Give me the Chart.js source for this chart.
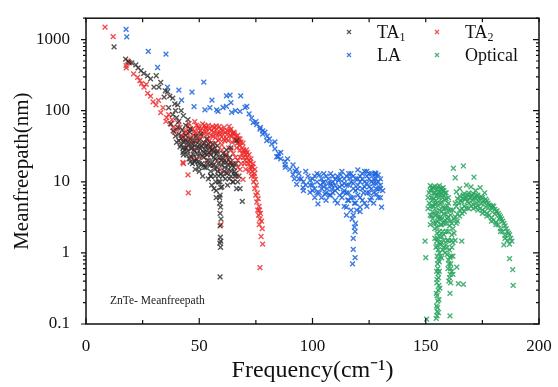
<!DOCTYPE html>
<html>
<head>
<meta charset="utf-8">
<script src="https://cdn.jsdelivr.net/npm/chart.js@4.4.1/dist/chart.umd.min.js"></script>
<style>
  html, body { margin: 0; padding: 0; background: #fff; }
  #wrap { width: 558px; height: 387px; }
</style>
</head>
<body>
<div id="wrap"><canvas id="mfp-chart" width="558" height="387"></canvas></div>
<script>
// axis ticks
const xTicks = [0, 50, 100, 150, 200];
const yTicks = [0.1, 1, 10, 100, 1000];

// legend names: [main, subscript]
const seriesNames = [['TA', '1'], ['TA', '2'], ['LA', ''], ['Optical', '']];

// [frequency cm-1, mean free path nm]
const ta1Points = [
  [12.4,790],[17.5,530],[18.8,485],[20.2,470],[22,440],[23,400],[24.3,365],[25.5,335],[27.2,310],[28.5,280],
  [31,310],[30,214],[32.2,214],[33,250],[34.5,155],[35,190],[36,185],[37,160],[38.3,150],[39.2,125],
  [40.5,121],[36.5,110],[38.3,88],[39.5,100],[41,71],[42,100],[43,85],[40,80],[44,62],[45,75],[46,55],[37.5,65],
  [38.5,52],[39.5,44],[40,36],[40.5,58],[41,47],[41.5,31],[42,41],[42.5,54],[42.8,26],[43,36],[43.5,28],
  [44,45],[44,30],[44.5,24],[45,33],[45.5,21],[45.8,50],[46,40],[46.2,23],[46.5,29],[47,18],[47,34],
  [47.5,24],[48,27],[48.2,15],[48.5,44],[48.8,21],[49,30],[49.5,19],[50,38],[50,14],[50.3,25],[50.8,47],
  [51,32],[51.2,18],[51.5,12],[52,22],[52.2,35],[52.5,28],[53,16],[53.2,40],[53.5,24],[54,20],[54,11],
  [54.5,30],[55,24],[55,14],[55.5,9],[55.8,19],[56,34],[56.2,17],[56.5,26],[57,12],[57,21],[57.5,7.5],
  [57.8,16],[58,27],[58.2,14],[58.5,10],[58.8,22],[59,6],[59.5,13],[60,17],[60,8.5],[60.5,25],[61,14],
  [61.5,11],[62,19],[62.5,9],[63,15],[63.5,22],[64,12],[64.5,17],[65,10],[65.5,14],[66,13],[66.5,8],
  [66.5,38],[64,30],[62,28],[68,8],[69,5.3],
  [41,38],[42,33],[43,30],[44,38],[45,27],[46,19],[46.8,31],[47.8,20],[48.5,33],[49.2,25],[49.8,16],
  [50.6,29],[51.4,23],[52.3,16],[52.8,31],[53.8,18],[54.2,26],[54.8,17],[55.2,12],[55.6,28],[56.4,22],
  [56.8,15],[57.3,10],[57.6,25],[58.4,18],[58.6,12],[59.6,20],[60.3,12],[60.8,19],[61.3,16],[61.8,23],
  [62.3,13],[62.8,17],[63.3,11],[63.8,19],[64.2,14],[64.8,10],[65.2,16],[65.8,12],[66.2,18],[67,10],
  [67.5,12],[48,38],[50,33],[52,26],[54,34],[56,29],[58,32],[60,22],[45,36],[43,24],[48,19],[50,18],
  [52,17],[55,12],[56.5,8],[57.5,6],
  [59.2,10],[59.5,8.3],[59.2,6.5],[59,5],[59.4,4.4],[59.2,3.6],[59.6,3.0],[59.2,2.4],[59.3,1.66],
  [59.5,1.46],[59.1,1.37],[59.4,1.2],[59.2,0.46]
];

const ta2Points = [
  [8.4,1500],[12,1100],[17.7,430],[18.4,500],[17.8,400],[19.3,470],[21,330],[22.8,295],[23.8,265],[24.5,240],
  [25.6,214],[26.6,235],[27.2,175],[28.5,160],[29.6,133],[30.9,121],[32,140],[33,94],[34,110],[35.3,71],
  [35.6,80],[36.5,88],[37.2,66],[38,75],[38.4,58],[39,50],[40,55],[40.5,68],
  [41.5,58],[42,45],[42.8,43],[43,38],[43.5,48],[44,52],[44.5,30],[45,60],[45.5,66],[46,42],[46.5,35],
  [47,55],[47.5,45],[47.5,28],[48,70],[48.5,48],[48.8,62],[49,38],[49.5,60],[50,30],[50.5,52],[51,44],
  [51.5,65],[52,36],[52.5,25],[52.8,58],[53,55],[53.5,46],[54,62],[54.5,38],[55,30],[55.5,52],[56,44],
  [56.5,58],[57,35],[57.5,61],[57.7,48],[58,26],[58.5,48],[59,40],[59.5,55],[60,33],[60.5,46],[61,58],
  [61.2,38],[61.5,24],[62,40],[62.5,52],[63,30],[63.2,60],[63.5,45],[64,55],[64.5,36],[65,25],[65.3,50],
  [65.5,47],[66,40],[66.5,30],[67,20],[67,45],[67.5,36],[68,28],[68,40],[68.5,18],[69,30],[69.3,35],
  [69.5,22],[70,26],[70.5,15],[70.8,28],[71,22],[71.5,18],[72,14],[72,24],[72.5,19],[73,12],[73.1,16.4],
  [73.5,16],[74,10],[74.3,13],[74.5,8],[74.8,10.8],[75,6.5],[75.4,5.2],[75.8,4],[76.2,3.4],[76.8,3.0],
  [76.5,2.5],[77.3,1.7],[78,1.33],[76.8,0.62],
  [44,40],[45,48],[46,56],[47,38],[48,52],[49,45],[49.8,56],[50.4,40],[51.2,56],[51.8,48],[52.4,62],
  [53.2,50],[53.8,40],[54.4,56],[55.2,45],[55.8,60],[56.4,50],[57.2,42],[57.8,55],[58.4,38],[58.8,60],
  [59.4,46],[60.2,52],[60.8,40],[61.6,50],[62.2,46],[62.8,38],[63.6,52],[64.2,44],[64.8,48],[65.6,38],
  [66.2,44],[66.8,35],[67.4,40],[67.8,32],[68.4,36],[68.8,25],[69.6,28],[70.2,20],[70.6,24],[71.2,26],
  [71.8,20],[72.4,16],[72.8,21],[73.4,14],[73.8,18],[74.2,12],[74.6,15],[75.2,9],[75.6,7],[76,5.8],
  [76.4,4.5],[76.6,4],[77,3.6],[77.5,2.8],[77.8,2.2],
  [60,28],[62,24],[64,28],[66,22],[68,22],[65,18],[63,20],[67,16],[70,18],[57,30],[55,35],[53,32],
  [43,18],[45.2,7],[42.8,18.8],[45,12.5],[47,22],[50,22],[53.3,20],[55,26],[56,17],[58,20],[59.2,14.7],
  [59.6,2.5],[61,20],[62,13.3],[64,18],[66.5,12],[68,15],[69.3,10.8]
];

const laPoints = [
  [17.7,1390],[18,1090],[27.5,685],[35.3,625],[31.6,405],[36,214],[41,195],[46.8,183],[42.2,141],[52,252],
  [55.6,141],[62,162],[63.6,166],[68.3,162],[47.7,114],[52.5,103],[54.7,110],[57.7,103],[60.5,111],[58.3,98],
  [62,115],[64.3,95],[68,98],[70.2,111],[71,115],[73.1,79],[73.8,68],[75.4,64],[76.8,55],[78,52],[79,50],
  [79.8,38],[78,47],[83.4,36.5],[83.4,29],[84.8,22.5],[84.2,22.5],[86,26],[87.9,19.4],[87.9,17.3],[89,21],
  [64,130],[66,100],[72,90],[75,70],[77,58],[80,44],[81,40],[82,34],[85,25],[86,21],[88,16],[90,15],
  [92,11],[93,15],
  [91.4,17.3],[92.3,14.1],[91.4,12.6],[93,9.2],[94,11],[95.8,8.3],[96,10],[97,14],[98,12],[98.9,7.1],[99,9],
  [100,11],[101,6],[101,8],[102,13],[102.4,4.9],[103,7],[104,11],[104.6,9.7],[105,8.5],[105.5,6.7],[106,12],
  [106,5.5],[107,9.5],[108,13],[108,6.5],[108.5,8.8],[108.5,7.9],[109,10],[110,10.8],[110,7.5],[110,5.5],
  [111,12],[111,5],[112,10.8],[112,8.5],[113,14],[113,6],[113.6,7.1],[114,9.5],[114,4.5],[115,12],[115,7],
  [115,4.4],[115,3.4],[116,9],[116,5.5],[116.5,11.3],[117,13],[117,4],[117.5,3],[118,8],[118,6],[118,3.4],
  [118.5,2.3],[119,11],[119,5],[119,2.6],[120,14.7],[120,9],[120,6.5],[121,12],[121,4.4],[121,3.8],[122,8],
  [122,5.5],[123,10],[123,14],[124,14],[124,7],[124,4.5],[125,11],[125,8.5],[125.4,5.5],[126,6],[126,13],
  [127,9.5],[127,5],[127.6,13.3],[127.6,12.6],[128,11],[128,8],[128.3,6.7],[129,10],[129,12.5],[129,7.9],
  [130,9],[130,6],[130.5,4.4],[131,7.5],
  [100,9],[101,12],[102,10],[103,12.5],[103.5,9],[104,6],[105,13],[106.5,8],[107,11],[107.5,6.5],[108,9.5],
  [109,12],[109,7],[110,9],[111,8],[111.5,10.5],[112,6.5],[112.5,12.5],[113,9],[114,11],[114,7.5],[115,9],
  [115.5,5.5],[116,13],[116,7],[117,10],[117,6],[118,12],[118,9.5],[118.5,5],[119,7.5],[119.5,4],[120,11],
  [120,8],[121,10],[121,6],[122,13],[122,11],[122.5,7],[123,8.5],[123,5],[124,12],[124,9.5],[125,13],
  [125,7],[126,10],[126,8],[127,11],[127,7],[128,13],[128,9.5],[129,6],[130,11],[130,8],[105,10],[106,7],
  [104,8],[102,7],[100,7.5],[99,10.5],[97,9],[95,11],[94,13],[96,7.5],
  [118.8,2.0],[118,1.6],[118,1.12],[118.8,0.86],[117.7,0.70]
];

const opticalPoints = [
  [152,8.8],[153,8.3],[154,8.6],[155,7.8],[156,8.8],[157,8],[158,7.5],[153.3,8.3],[157.7,8.3],
  [151.5,7],[152.5,6],[153.5,7],[154.5,5.5],[155.5,6.5],[156.5,5],[157.5,6],[158.5,5.5],[159,7],
  [152,4.5],[153,3.8],[154,4.8],[155,3.5],[156,4],[157,3],[158,4.2],[159,3.5],[160,5],[151,4.2],
  [152,2.5],[153,3],[154,2.2],[155,2.8],[156,2],[157,2.5],[158,1.8],[159,2.6],[160,3.2],[161,4],
  [152.5,3.3],[153.5,2.6],[154.5,3.9],[155.5,4.6],[156.5,3.2],[157.5,4.4],[158.5,2.9],[159.5,4.6],
  [151,6],[151.5,5],[152,7.5],[152.5,8],[153,5.5],[153.5,4.5],[154,7],[154.5,6.3],[155,5],[155,8.5],
  [155.5,7],[156,6],[156,7.2],[156.5,8],[157,5.2],[157,6.8],[157.5,7.5],[158,6.5],[158,3.5],[158.5,7],
  [159,5.8],[159,4.2],[159.5,3],[160,4],[160,6],[160.5,2.4],[161,3.4],[161.5,2.6],[152,3.4],[153,4.6],
  [153.5,5.8],[154,3.4],[154.5,2.6],[155,2.3],[155.5,3.2],[156,3],[156.5,2.5],[157,3.8],[157.5,2],
  [158,2.6],[159,2],[159.5,1.5],[160,2],
  [154,1.6],[155,1.9],[156,1.4],[157,1.7],[158,1.2],[159.2,1.18],[161.5,1.8],[154.8,1.46],[155.5,1.1],
  [155,1.6],[156,1.7],[156.5,1.3],[157,1.4],[157.5,1.1],[158,1.5],[158.5,1],[159,1.3],[154.5,1.2],
  [155,1.25],[155.5,0.8],[156,1],[156.5,0.9],[157,0.85],[155.2,0.7],[154.8,0.55],[156,0.55],[155.6,0.45],
  [154.9,0.38],[156.2,0.32],[154.7,0.27],[155.8,0.22],[155.2,0.17],[155.6,0.145],[154.6,0.12],
  [155,0.9],[156,0.75],[155.3,0.6],[155.5,0.51],[155,0.42],[155.8,0.35],[155.5,0.3],[155,0.25],[155.3,0.21],
  [154.8,0.18],[155,0.15],[155,0.13],[150.4,0.117],[160.7,0.13],[160.7,0.86],[160.7,0.27],[161,0.6],
  [160.5,0.45],[164.4,0.37],[166.6,0.36],[163.7,0.63],[165.9,1.46],[149.7,1.46],[150,0.86],
  [159.5,0.95],[160,0.8],[161,0.7],[160.5,1.1],[161.5,0.55],[162,0.5],[160.2,0.4],[161,0.38],[159.8,0.6],
  [160.2,0.7],[161.2,0.9],[160.8,0.5],[161.5,1.5],[162.5,1.9],[163.5,2.6],[162,1.4],
  [162,2.2],[163,1.5],[162.5,3],[161,2.8],[160,1.5],[161.5,1.2],[162,0.9],
  [162.2,15.5],[166.6,16.7],[163,11.4],[171.3,11.6],[174,8.3],
  [165,8],[168,9],[170,8.5],[172,7.5],[163.5,7.2],[176,7],
  [162,4],[163,5],[164,5.8],[165,6.3],[166,5.2],[167,6.8],[168,6],[169,7],[170,6.2],[171,6.8],[172,5.8],
  [173,6.5],[174,5.5],[175,6],[176,5],[177,5.4],[178,4.7],[179,4.3],[180,4.5],[181,3.8],[182,3.6],
  [183,3.2],[184,2.8],[185,2.4],[186,2],[187,1.8],[188,1.46],[187,1.33],[187,0.83],[188.4,0.58],[188.6,0.35],
  [163,3.2],[164,3.5],[165,4],[166,4.2],[167,4.5],[168,4.3],[169,5],[170,4.6],[171,4.8],[172,4.4],
  [173,4.6],[174,4.2],[175,4],[176,3.8],[177,3.6],[178,3.4],[179,3.1],[180,2.9],[181,2.7],[182,2.5],
  [183,2.2],[184,2],[185,1.75],[186,1.5],[184.5,1.3],
  [166.5,5.8],[168.5,5.3],[170.5,5.5],[172.5,5.1],[174.5,4.9],[176.5,4.4],[178.5,4],[180.5,3.5],[182.5,3],
  [163.5,4.5],[164.5,5],[165.5,5.5],[166.5,6.5],[167.5,5.7],[168.5,6.6],[169.5,6],[170.5,6.5],[171.5,6],
  [172.5,6.4],[173.5,5.9],[174.5,6.2],[175.5,5.4],[176.5,5.7],[177.5,5],[178.5,4.6],[179.5,4.6],[180.5,4.1],
  [181.5,3.9],[182.5,3.4],[183.5,3],[184.5,2.6],[185.5,2.2],[186.5,1.9],[187.5,1.6],[167,3.8],[169,4.2],
  [171,4.2],[173,4],[175,3.6],[177,3.3],[179,2.8],[181,2.5],[183,2],[185,1.6],[164,2.8],[165,3.3],[166,3.6]
];

const seriesColors = ['rgba(45,45,45,0.8)', 'rgba(238,38,38,0.8)', 'rgba(28,100,222,0.85)', 'rgba(42,165,95,0.85)'];
const serif = "'Liberation Serif', 'Times New Roman', serif";

const toXY = pts => pts.map(p => ({ x: p[0], y: p[1] }));

// box, inward/outward tick marks, legend and note
const framePlugin = {
  id: 'framePlugin',
  afterDraw(chart) {
    const { ctx, chartArea: a, scales: { x, y } } = chart;
    ctx.save();
    ctx.strokeStyle = '#111';
    ctx.lineWidth = 1.5;
    ctx.strokeRect(a.left, a.top, a.right - a.left, a.bottom - a.top);

    ctx.lineWidth = 1.2;
    ctx.beginPath();
    for (let v = 0; v <= 200; v += 25) {
      const px = x.getPixelForValue(v);
      const major = v % 50 === 0;
      ctx.moveTo(px, a.bottom); ctx.lineTo(px, a.bottom - (major ? 6 : 4));
      ctx.moveTo(px, a.top); ctx.lineTo(px, a.top + 4);
    }
    for (let d = 0.1; d < 3000; d *= 10) {
      for (let m = 1; m <= 9; m++) {
        const v = d * m;
        if (v > y.max) break;
        const py = y.getPixelForValue(v);
        const major = m === 1;
        ctx.moveTo(a.left, py); ctx.lineTo(a.left - (major ? 5 : 3), py);
        ctx.moveTo(a.right, py); ctx.lineTo(a.right - (major ? 6 : 3), py);
      }
    }
    ctx.stroke();

    // legend
    const spots = [[349, 32], [437, 32], [349, 55], [437, 55]];
    chart.data.datasets.forEach((ds, i) => {
      const [lx, ly] = spots[i];
      ctx.strokeStyle = ds.borderColor;
      ctx.lineWidth = 1.2;
      ctx.beginPath();
      ctx.moveTo(lx - 2, ly - 2); ctx.lineTo(lx + 2, ly + 2);
      ctx.moveTo(lx - 2, ly + 2); ctx.lineTo(lx + 2, ly - 2);
      ctx.stroke();
      const [main, sub] = seriesNames[i];
      ctx.fillStyle = '#111';
      ctx.textBaseline = 'middle';
      ctx.textAlign = 'left';
      ctx.font = '18px ' + serif;
      ctx.fillText(main, lx + 28, ly + 1);
      if (sub) {
        const w = ctx.measureText(main).width;
        ctx.font = '12px ' + serif;
        ctx.fillText(sub, lx + 28 + w, ly + 6);
      }
    });

    ctx.font = '11.5px ' + serif;
    ctx.fillStyle = '#222';
    ctx.fillText('ZnTe- Meanfreepath', 110, 301);
    ctx.restore();
  }
};

new Chart(document.getElementById('mfp-chart'), {
  type: 'scatter',
  data: {
    datasets: [ta1Points, ta2Points, laPoints, opticalPoints].map((pts, i) => ({
      label: seriesNames[i].join(''),
      data: toXY(pts),
      pointStyle: 'crossRot',
      pointRadius: 3.4,
      pointBorderWidth: 1.4,
      borderColor: seriesColors[i],
      backgroundColor: seriesColors[i]
    }))
  },
  options: {
    responsive: false,
    animation: false,
    layout: { padding: { top: 9, right: 19, left: 0, bottom: 0 } },
    plugins: { legend: { display: false }, tooltip: { enabled: false } },
    scales: {
      x: {
        type: 'linear',
        min: 0,
        max: 200,
        afterBuildTicks: s => { s.ticks = xTicks.map(v => ({ value: v })); },
        afterFit: s => { s.height = 63; },
        grid: { display: false },
        border: { display: false },
        ticks: { color: '#111', padding: 4, maxRotation: 0, font: { family: serif, size: 17 } },
        title: {
          display: true,
          text: 'Frequency(cm\u207B\u00B9)',
          color: '#111',
          font: { family: serif, size: 24 },
          padding: { top: 0, bottom: 2 }
        }
      },
      y: {
        type: 'logarithmic',
        min: 0.1,
        max: 2000,
        afterBuildTicks: s => { s.ticks = yTicks.map(v => ({ value: v })); },
        afterFit: s => { s.width = 86; },
        grid: { display: false },
        border: { display: false },
        ticks: { color: '#111', padding: 8, font: { family: serif, size: 17 }, callback: v => String(v) },
        title: {
          display: true,
          text: 'Meanfreepath(nm)',
          color: '#111',
          font: { family: serif, size: 21 },
          padding: { top: 10, bottom: 0 }
        }
      }
    }
  },
  plugins: [framePlugin]
});
</script>
</body>
</html>
